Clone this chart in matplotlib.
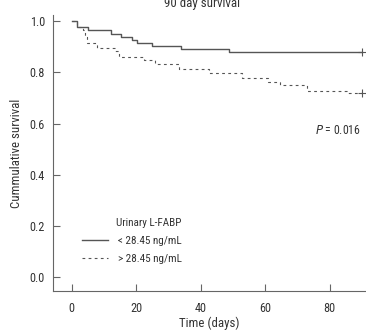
"""
90 day survival by urinary L-FABP (Kaplan-Meier style step plot)
"""

import matplotlib
matplotlib.use("Agg")
import matplotlib.pyplot as plt
from matplotlib.lines import Line2D

# ─── Data ──────────────────────────────────────────────────────────────
low_days = [0, 1.55, 4.96, 12.2, 15.2, 18.6, 20.3, 25.0, 33.8, 48.6, 90.0]
low_surv = [1.0, 0.977, 0.964, 0.951, 0.938, 0.928, 0.915, 0.904, 0.891, 0.878, 0.878]

high_days = [0, 1.55, 3.6, 4.1, 4.65, 7.75, 13.4, 14.7, 22.4, 25.8, 33.1,
             42.6, 52.8, 61.0, 64.6, 72.9, 85.3, 90.0]
high_surv = [1.0, 0.976, 0.967, 0.937, 0.915, 0.897, 0.882, 0.862, 0.849, 0.832, 0.813,
             0.797, 0.780, 0.763, 0.751, 0.729, 0.719, 0.719]

group_labels = ["< 28.45 ng/mL", "> 28.45 ng/mL"]
legend_title = "Urinary L-FABP"
p_text = "= 0.016"
x_ticks = [0, 20, 40, 60, 80]
y_ticks = [0.0, 0.2, 0.4, 0.6, 0.8, 1.0]

# ─── Style ─────────────────────────────────────────────────────────────
plt.rcParams["font.family"] = ["Roboto Condensed", "DejaVu Sans"]
TEXT = "#333333"
LINE = "#555555"
SPINE = "#666666"
FS = 8.8

fig = plt.figure(figsize=(3.66, 3.31), dpi=100)
ax = fig.add_axes([0.146, 0.121, 0.851, 0.834])

ax.step(low_days, low_surv, where="post", color=LINE, lw=1.0)
ax.step(high_days, high_surv, where="post", color=LINE, lw=0.8,
        dashes=(2.5, 3.0))
# censor marks at end of follow-up
ax.plot([low_days[-1]], [low_surv[-1]], marker="+", ms=6, mew=0.8, color=LINE)
ax.plot([high_days[-1]], [high_surv[-1]], marker="+", ms=6, mew=0.8, color=LINE)

ax.set_xlim(-5.7, 90.9)
ax.set_ylim(-0.055, 1.025)
ax.set_xticks(x_ticks)
ax.set_yticks(y_ticks)
ax.set_yticklabels([f"{v:.1f}" for v in y_ticks])
ax.tick_params(direction="in", length=4.7, width=0.8, color=SPINE,
               labelsize=FS, labelcolor=TEXT)
ax.tick_params(axis="y", pad=6)
ax.tick_params(axis="x", pad=8.0)
for side in ("top", "right"):
    ax.spines[side].set_visible(False)
for side in ("left", "bottom"):
    ax.spines[side].set_color(SPINE)
    ax.spines[side].set_linewidth(0.8)

ax.set_xlabel("Time (days)", fontsize=FS + 0.5, color=TEXT, labelpad=1)
ax.set_ylabel("Cummulative survival", fontsize=FS + 0.5, color=TEXT, labelpad=5)

fig.text(0.553, 1 - 6.5 / 331, "90 day survival", ha="center", va="baseline",
         fontsize=FS + 0.5, color=TEXT)

ax.text(0.84, 0.583, r"$\it{P}$ " + p_text, transform=ax.transAxes,
        fontsize=FS - 0.3, color=TEXT, va="center", ha="left")

# legend
handles = [Line2D([], [], color=LINE, lw=1.0),
           Line2D([], [], color=LINE, lw=0.8, dashes=(2.5, 3.0))]
ax.legend(handles, group_labels, loc="lower left", bbox_to_anchor=(0.06, 0.06),
          frameon=False, fontsize=FS - 0.8, handlelength=2.3, handletextpad=0.9,
          labelspacing=0.75, labelcolor=TEXT)
ax.text(0.2, 0.245, legend_title, transform=ax.transAxes, fontsize=FS - 0.8,
        color=TEXT, va="center", ha="left")

fig.savefig("out.png", dpi=100)
